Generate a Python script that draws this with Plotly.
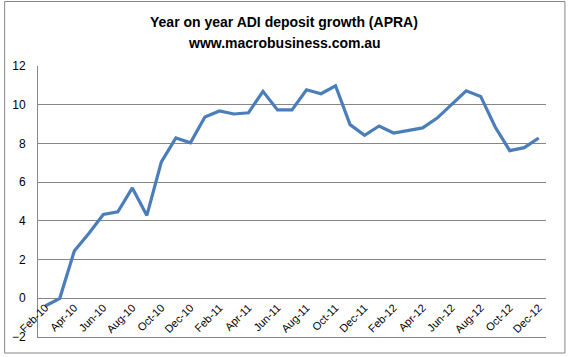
import plotly.graph_objects as go

months = ["Feb-10","Mar-10","Apr-10","May-10","Jun-10","Jul-10","Aug-10","Sep-10","Oct-10","Nov-10","Dec-10",
          "Jan-11","Feb-11","Mar-11","Apr-11","May-11","Jun-11","Jul-11","Aug-11","Sep-11","Oct-11","Nov-11","Dec-11",
          "Jan-12","Feb-12","Mar-12","Apr-12","May-12","Jun-12","Jul-12","Aug-12","Sep-12","Oct-12","Nov-12","Dec-12"]
growth = [-0.4, 0.0, 2.44, 3.35, 4.33, 4.47, 5.7, 4.28, 7.05, 8.28, 8.03,
          9.37, 9.68, 9.52, 9.58, 10.69, 9.73, 9.73, 10.77, 10.57, 10.98, 8.97, 8.42,
          8.9, 8.54, 8.69, 8.8, 9.31, 10.03, 10.72, 10.43, 8.85, 7.63, 7.78, 8.28]
tick_labels = months[::2]
y_ticks = [-2, 0, 2, 4, 6, 8, 10, 12]

fig = go.Figure()
fig.add_trace(go.Scatter(x=months, y=growth, mode="lines",
                         line=dict(color="#4A7EBB", width=3.2), hoverinfo="skip"))
# invisible helper trace so the label axis (at y = 0) renders
fig.add_trace(go.Scatter(x=months, y=growth, mode="lines", xaxis="x2",
                         line=dict(color="rgba(0,0,0,0)", width=0), hoverinfo="skip"))

font_family = "Liberation Sans, Arial, sans-serif"
grid = "#868686"
fig.update_layout(
    width=568, height=357,
    margin=dict(l=36, r=22, t=66, b=20),
    paper_bgcolor="white", plot_bgcolor="white",
    showlegend=False,
    font=dict(family=font_family, color="black"),
    xaxis=dict(type="category", categoryorder="array", categoryarray=months,
               showticklabels=False, showgrid=False, showline=True, linecolor=grid,
               linewidth=1, zeroline=False, ticks="", range=[-0.5, 34.5]),
    xaxis2=dict(type="category", categoryorder="array", categoryarray=months,
                overlaying="x", anchor="free", position=2/14, side="bottom",
                tickmode="array", tickvals=tick_labels, ticktext=tick_labels,
                tickangle=-45, tickfont=dict(size=11, family=font_family),
                showgrid=False, showline=False, zeroline=False, ticks="",
                range=[-0.5, 34.5]),
    yaxis=dict(range=[-2, 12], tickmode="array", tickvals=y_ticks,
               tickfont=dict(size=12, family=font_family),
               showgrid=True, gridcolor=grid, gridwidth=1,
               showline=True, linecolor=grid, linewidth=1,
               zeroline=False, ticks="outside", ticklen=9, tickcolor="rgba(0,0,0,0)"),
    annotations=[
        dict(text="<b>Year on year ADI deposit growth (APRA)</b>", xref="paper", yref="paper",
             x=(283 - 36) / 510, y=(337 - 22) / 271, xanchor="center", yanchor="middle",
             showarrow=False, font=dict(size=14, family=font_family)),
        dict(text="<b>www.macrobusiness.com.au</b>", xref="paper", yref="paper",
             x=(283 - 36) / 510, y=(337 - 43) / 271, xanchor="center", yanchor="middle",
             showarrow=False, font=dict(size=14, family=font_family)),
    ],
    shapes=[
        dict(type="rect", xref="paper", yref="paper",
             x0=(2.5 - 36) / 510, x1=(565 - 36) / 510,
             y0=(337 - 353) / 271, y1=(337 - 1.5) / 271,
             line=dict(color=grid, width=1), fillcolor="rgba(0,0,0,0)", layer="above"),
    ],
)

fig.write_html("out.html", config={"displayModeBar": False, "staticPlot": True},
               post_script="document.body.style.margin='0';document.documentElement.style.overflow='hidden';document.body.style.overflow='hidden';")
